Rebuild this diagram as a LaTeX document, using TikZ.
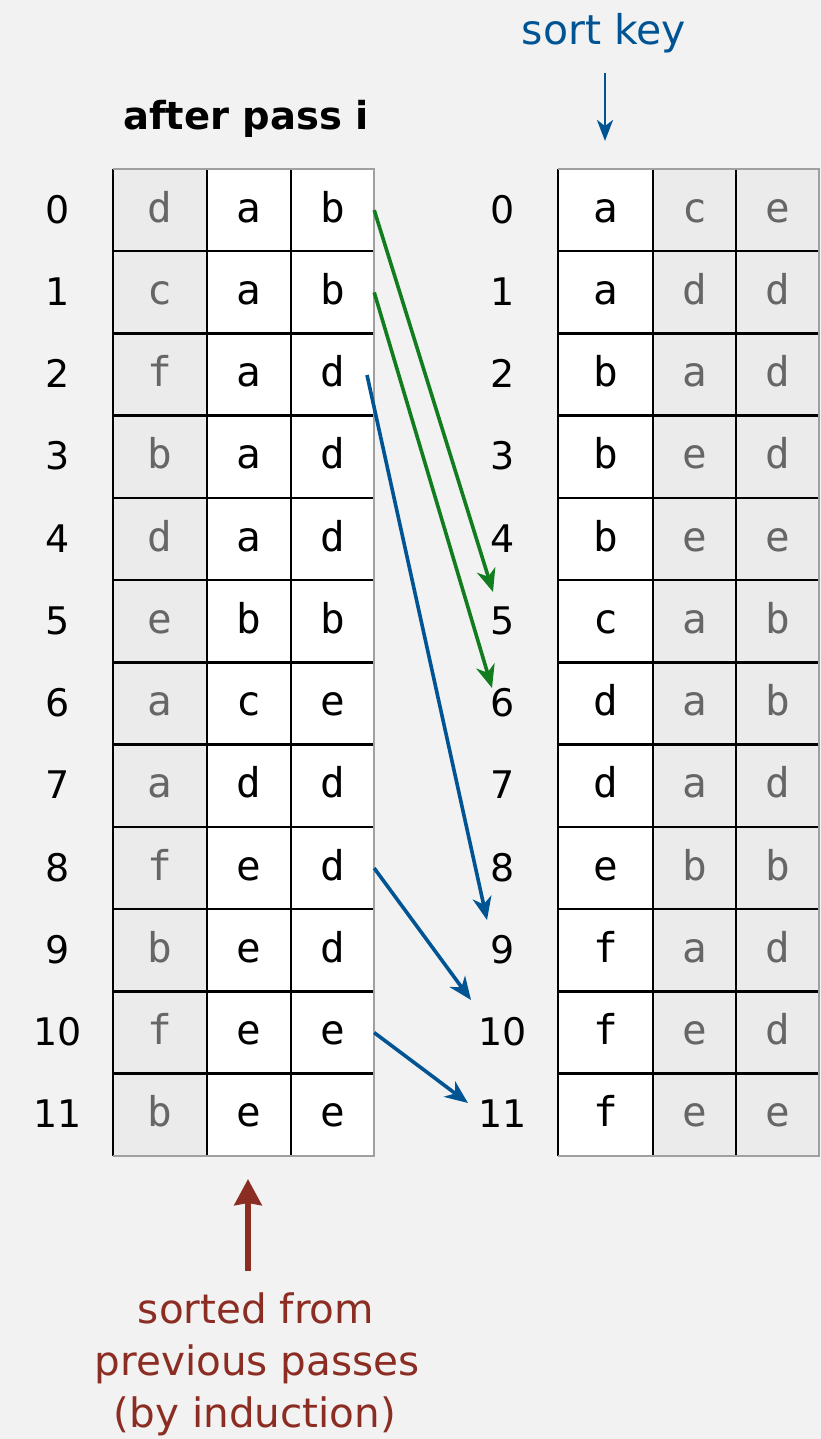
\documentclass[tikz,border=0pt]{standalone}
\usepackage{fontspec}
\setmainfont{DejaVu Sans}
\newfontfamily\cellfont{DejaVu Sans Mono}
\usetikzlibrary{arrows.meta}
\definecolor{bgc}{HTML}{F2F2F2}
\definecolor{cellgray}{HTML}{EBEBEB}
\definecolor{txtgray}{HTML}{666666}
\definecolor{edgegray}{HTML}{A0A0A0}
\definecolor{arrgreen}{RGB}{18,125,30}
\definecolor{arrblue}{RGB}{0,84,147}
\definecolor{arrred}{RGB}{140,45,35}
\tikzset{
  cellbase/.style={inner sep=0pt, minimum height=82.25pt, text height=24pt, text depth=0pt,
    font=\cellfont\fontsize{41}{48}\selectfont},
  wcell/.style={cellbase, fill=white, text=black},
  gcell/.style={cellbase, fill=cellgray, text=txtgray},
  rowlab/.style={inner sep=0pt, text height=26pt, text depth=0pt, font=\fontsize{38}{46}\selectfont},
  gridline/.style={line width=2.6pt, black},
  outline/.style={line width=2.4pt, edgegray},
  conn/.style={line width=3.6pt, -{Stealth[length=23pt,width=19pt,inset=7pt]}},
  redtext/.style={anchor=base, text=arrred, font=\fontsize{40.5}{48}\selectfont},
}
\begin{document}
\begin{tikzpicture}[x=1pt,y=-1pt]
\fill[bgc] (0,0) rectangle (821,1439);
\useasboundingbox (0,0) rectangle (821,1439);
% left table
\foreach \a/\b/\c [count=\n from 0] in {d/a/b,c/a/b,f/a/d,b/a/d,d/a/d,e/b/b,a/c/e,a/d/d,f/e/d,b/e/d,f/e/e,b/e/e}{
  \pgfmathsetmacro\yc{210.125+82.25*\n}
  \node[gcell, minimum width=94pt] (L-\n-0) at (160,\yc) {\a};
  \node[wcell, minimum width=84pt] (L-\n-1) at (249,\yc) {\b};
  \node[wcell, minimum width=83pt] (L-\n-2) at (332.5,\yc) {\c};
  \node[rowlab] (LN\n) at (58,\yc) {\n};
}
% right table
\foreach \a/\b/\c [count=\n from 0] in {a/c/e,a/d/d,b/a/d,b/e/d,b/e/e,c/a/b,d/a/b,d/a/d,e/b/b,f/a/d,f/e/d,f/e/e}{
  \pgfmathsetmacro\yc{210.125+82.25*\n}
  \node[wcell, minimum width=95pt] (R-\n-0) at (605.5,\yc) {\a};
  \node[gcell, minimum width=83pt] (R-\n-1) at (694.5,\yc) {\b};
  \node[gcell, minimum width=83pt] (R-\n-2) at (777.5,\yc) {\c};
  \node[rowlab] (RN\n) at (503,\yc) {\n};
}
% grid lines
\foreach \t in {L,R}{
  \foreach \n in {1,...,11}{
    \draw[gridline] (\t-\n-0.north west) -- (\t-\n-2.north east);
  }
  \foreach \c in {0,1,2}{
    \draw[gridline] (\t-0-\c.north west) -- (\t-11-\c.south west);
  }
  \draw[outline] (\t-0-0.north west) -- (\t-0-2.north east) -- (\t-11-2.south east) -- (\t-11-0.south west);
}
% titles
\node[anchor=base, font=\bfseries\fontsize{38.5}{46}\selectfont] (title) at (246,130) {after pass i};
\node[anchor=base, text=arrblue, font=\fontsize{41}{48}\selectfont] (sk) at (604,45) {sort key};
\coordinate (skfrom) at (605,73);
\coordinate (skto) at (605,141);
\draw[line width=2.8pt, arrblue, -{Stealth[length=21pt,width=16pt,inset=6pt]}] (skfrom) -- (skto);
% red annotation
\node[redtext] (r1) at (256,1323) {sorted from};
\node[redtext] (r2) at (257,1375) {previous passes};
\node[redtext] (r3) at (255,1427) {(by induction)};
\coordinate (redfrom) at (248,1271);
\coordinate (redto) at (248,1179);
\draw[line width=6pt, arrred, -{Stealth[length=26pt,width=27pt,inset=2pt]}] (redfrom) -- (redto);
% connectors
\coordinate (t5) at (493,592);
\coordinate (t6) at (492,688);
\coordinate (t9) at (487,920);
\coordinate (t10) at (471,1000);
\coordinate (t11) at (468,1103);
\coordinate (s2) at (367,375);
\draw[conn, arrgreen] (L-0-2.east) -- (t5);
\draw[conn, arrgreen] (L-1-2.east) -- (t6);
\draw[conn, arrblue] (s2) -- (t9);
\draw[conn, arrblue] (L-8-2.east) -- (t10);
\draw[conn, arrblue] (L-10-2.east) -- (t11);
\end{tikzpicture}
\end{document}
